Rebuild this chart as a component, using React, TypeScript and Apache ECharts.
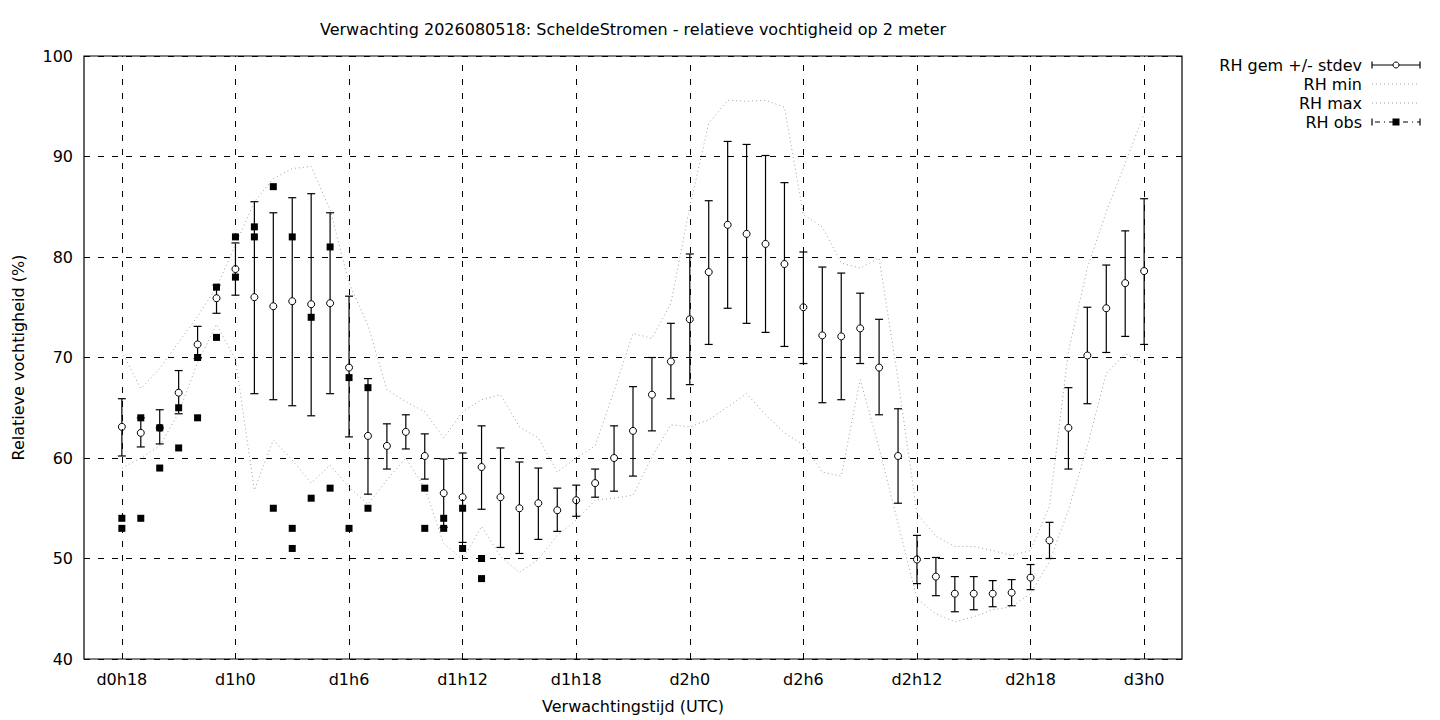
import React, { useEffect, useRef } from "react";
import * as echarts from "echarts";

// Forecast hours (d0h18 = 18 ... d3h0 = 72)
const hours = [
  18, 19, 20, 21, 22, 23, 24, 25, 26, 27, 28, 29, 30, 31, 32, 33, 34, 35, 36,
  37, 38, 39, 40, 41, 42, 43, 44, 45, 46, 47, 48, 49, 50, 51, 52, 53, 54, 55,
  56, 57, 58, 59, 60, 61, 62, 63, 64, 65, 66, 67, 68, 69, 70, 71, 72,
];

// RH mean
const rhMean = [
  63.1, 62.5, 63.0, 66.5, 71.3, 75.9, 78.8, 76.0, 75.1, 75.6, 75.3, 75.4, 69.0,
  62.2, 61.2, 62.6, 60.2, 56.5, 56.1, 59.1, 56.1, 55.0, 55.5, 54.8, 55.8, 57.5,
  60.0, 62.7, 66.3, 69.6, 73.8, 78.5, 83.2, 82.3, 81.3, 79.3, 75.0, 72.2, 72.1,
  72.9, 69.0, 60.2, 49.9, 48.2, 46.5, 46.5, 46.5, 46.6, 48.1, 51.8, 63.0, 70.2,
  74.9, 77.4, 78.6,
];

// mean + stdev
const rhHigh = [
  65.9, 64.0, 64.8, 68.7, 73.1, 77.2, 81.4, 85.5, 84.4, 85.9, 86.3, 84.4, 76.1,
  67.9, 63.4, 64.3, 62.4, 59.9, 60.5, 63.2, 61.0, 59.6, 59.0, 57.0, 57.3, 58.9,
  63.2, 67.1, 70.0, 73.4, 80.3, 85.6, 91.5, 91.2, 90.1, 87.4, 80.5, 79.0, 78.4,
  76.4, 73.8, 64.9, 52.3, 50.1, 48.2, 48.2, 47.8, 47.9, 49.4, 53.6, 67.0, 75.0,
  79.2, 82.6, 85.8,
];

// mean - stdev
const rhLow = [
  60.2, 61.1, 61.4, 64.4, 69.9, 74.4, 76.2, 66.4, 65.8, 65.2, 64.2, 66.4, 62.1,
  56.4, 58.9, 60.9, 57.9, 53.1, 51.6, 54.9, 51.1, 50.5, 51.9, 52.7, 54.2, 56.1,
  56.7, 58.2, 62.7, 65.9, 67.3, 71.3, 74.9, 73.4, 72.5, 71.1, 69.4, 65.5, 65.8,
  69.4, 64.3, 55.5, 47.5, 46.3, 44.7, 44.9, 45.2, 45.3, 46.9, 50.0, 58.9, 65.4,
  70.5, 72.1, 71.3,
];

// RH min
const rhMin = [
  59.0, 60.0, 61.2, 64.5, 69.5, 73.3, 69.8, 56.8, 61.8, 59.8, 57.5, 59.3, 57.1,
  55.4, 57.8, 60.0, 57.0, 51.5, 49.9, 53.2, 50.2, 48.6, 49.9, 52.3, 53.8, 55.8,
  56.0, 56.3, 60.1, 63.3, 63.1, 63.8, 65.1, 66.4, 64.3, 62.5, 61.3, 58.6, 58.2,
  67.8, 61.0, 53.5, 46.0, 44.5, 43.7, 44.2, 44.9, 45.2, 46.5, 49.7, 54.8, 61.2,
  68.4, 70.4, 69.4,
];

// RH max
const rhMax = [
  70.6, 66.9, 68.9, 71.5, 74.1, 77.0, 81.2, 85.5, 87.8, 88.8, 89.0, 84.7, 77.4,
  73.2, 66.8, 65.6, 64.6, 62.0, 64.6, 65.8, 66.3, 63.1, 62.0, 58.6, 60.0, 61.2,
  66.7, 72.4, 71.9, 75.4, 85.0, 93.3, 95.6, 95.5, 95.6, 94.9, 84.2, 83.0, 79.4,
  78.9, 79.9, 67.8, 54.5, 52.2, 51.2, 51.2, 50.8, 50.3, 50.8, 55.2, 70.6, 78.9,
  84.5, 89.3, 94.3,
];

// Observations (hour, value)
const obsHours = [
  18, 18, 19, 19, 20, 20, 21, 21, 22, 22, 23, 23, 24, 24, 25, 25, 26, 26, 27,
  27, 27, 28, 28, 29, 29, 30, 30, 31, 31, 34, 34, 35, 35, 36, 36, 37, 37,
];
const obsValues = [
  54, 53, 64, 54, 63, 59, 65, 61, 70, 64, 77, 72, 82, 78, 83, 82, 87, 55, 82,
  53, 51, 74, 56, 81, 57, 68, 53, 67, 55, 57, 53, 54, 53, 55, 51, 50, 48,
];

const xTickHours = [18, 24, 30, 36, 42, 48, 54, 60, 66, 72];

const titleText =
  "Verwachting 2026080518: ScheldeStromen - relatieve vochtigheid op 2 meter";
const xName = "Verwachtingstijd (UTC)";
const yName = "Relatieve vochtigheid (%)";
const legendNames = ["RH gem +/- stdev", "RH min", "RH max", "RH obs"];

const FONT = "DejaVu Sans";
const FS = 16;

function fmtHour(v: number): string {
  const d = Math.floor(v / 24);
  const h = v - d * 24;
  return "d" + d + "h" + h;
}

export default function App() {
  const ref = useRef<HTMLDivElement>(null);

  useEffect(() => {
    if (!ref.current) return;
    const chart = echarts.init(ref.current, null, { renderer: "svg" });

    const errData = hours.map((h, i) => [h, rhLow[i], rhHigh[i]]);
    const meanData = hours.map((h, i) => [h, rhMean[i]]);
    const minData = hours.map((h, i) => [h, rhMin[i]]);
    const maxData = hours.map((h, i) => [h, rhMax[i]]);
    const obsData = obsHours.map((h, i) => [h, obsValues[i]]);

    const barStyle = { stroke: "#000", lineWidth: 1.2 };
    const dotted = { color: "#a0a0a0", width: 1, type: [1, 3] as any };

    const legendX1 = 1372;
    const legendX2 = 1420;
    const legendMid = 1396;
    const legendTextX = 1362;
    const rowY = [65, 84, 103, 122];
    const font = FS + "px '" + FONT + "'";

    const legendGraphics: any[] = [];
    legendNames.forEach((n, i) => {
      legendGraphics.push({
        type: "text",
        x: legendTextX,
        y: rowY[i],
        style: {
          text: n,
          fill: "#000",
          font,
          align: "right",
          verticalAlign: "middle",
        },
      });
    });
    // row 1: errorbar with circle
    legendGraphics.push(
      {
        type: "line",
        shape: { x1: legendX1, y1: rowY[0], x2: legendX2, y2: rowY[0] },
        style: { stroke: "#000", lineWidth: 1.2 },
      },
      {
        type: "line",
        shape: { x1: legendX1, y1: rowY[0] - 3.5, x2: legendX1, y2: rowY[0] + 3.5 },
        style: { stroke: "#000", lineWidth: 1.2 },
      },
      {
        type: "line",
        shape: { x1: legendX2, y1: rowY[0] - 3.5, x2: legendX2, y2: rowY[0] + 3.5 },
        style: { stroke: "#000", lineWidth: 1.2 },
      },
      {
        type: "circle",
        shape: { cx: legendMid, cy: rowY[0], r: 3 },
        style: { fill: "#fff", stroke: "#000", lineWidth: 1 },
      }
    );
    // rows 2,3: dotted lines
    [1, 2].forEach((i) => {
      legendGraphics.push({
        type: "line",
        shape: { x1: legendX1, y1: rowY[i], x2: legendX2, y2: rowY[i] },
        style: { stroke: "#a0a0a0", lineWidth: 1, lineDash: [1, 3] },
      });
    });
    // row 4: dash-dot with square
    legendGraphics.push(
      {
        type: "line",
        shape: { x1: legendX1 + 3, y1: rowY[3], x2: legendX2, y2: rowY[3] },
        style: { stroke: "#000", lineWidth: 1.2, lineDash: [5, 4, 1, 4] },
      },
      {
        type: "line",
        shape: { x1: legendX1, y1: rowY[3] - 3.5, x2: legendX1, y2: rowY[3] + 3.5 },
        style: { stroke: "#000", lineWidth: 1.2 },
      },
      {
        type: "line",
        shape: { x1: legendX2, y1: rowY[3] - 3.5, x2: legendX2, y2: rowY[3] + 3.5 },
        style: { stroke: "#000", lineWidth: 1.2 },
      },
      {
        type: "rect",
        shape: { x: legendMid - 3.5, y: rowY[3] - 3.5, width: 7, height: 7 },
        style: { fill: "#000" },
      }
    );

    chart.setOption({
      animation: false,
      backgroundColor: "#fff",
      textStyle: { fontFamily: FONT },
      grid: {
        left: 84,
        right: 258,
        top: 56,
        bottom: 61,
        outerBoundsMode: "none",
        containLabel: false,
        show: true,
        borderColor: "#000",
        borderWidth: 1.2,
        backgroundColor: "transparent",
      },
      graphic: [
        {
          type: "text",
          x: 633,
          y: 29,
          style: {
            text: titleText,
            fill: "#000",
            font,
            align: "center",
            verticalAlign: "middle",
          },
        },
        ...legendGraphics,
      ],
      xAxis: {
        type: "value",
        min: 16,
        max: 74,
        name: xName,
        nameLocation: "middle",
        nameGap: 39,
        nameTextStyle: { color: "#000", fontSize: FS, fontFamily: FONT },
        axisLine: { show: false },
        axisTick: { show: false, customValues: xTickHours },
        splitLine: { show: false },
        axisLabel: {
          customValues: xTickHours,
          formatter: (v: number) => fmtHour(v),
          color: "#000",
          fontSize: FS,
          fontFamily: FONT,
          margin: 12,
        },
      },
      yAxis: {
        type: "value",
        min: 40,
        max: 100,
        interval: 10,
        name: yName,
        nameLocation: "middle",
        nameGap: 58,
        nameTextStyle: { color: "#000", fontSize: FS, fontFamily: FONT },
        axisLine: { show: false },
        axisTick: { show: false },
        splitLine: {
          show: true,
          lineStyle: { color: "#000", width: 1, type: [6, 8] },
        },
        axisLabel: {
          color: "#000",
          fontSize: FS,
          fontFamily: FONT,
          margin: 11,
        },
      },
      series: [
        {
          name: "grid",
          type: "line",
          data: [],
          silent: true,
          markLine: {
            silent: true,
            symbol: "none",
            label: { show: false },
            lineStyle: { color: "#000", width: 1, type: [6, 8] },
            data: xTickHours.map((h) => ({ xAxis: h })),
          },
        },
        {
          name: legendNames[0],
          type: "custom",
          data: errData,
          encode: { x: 0, y: [1, 2] },
          z: 3,
          renderItem: (params: any, api: any) => {
            const x = api.value(0);
            const lo = api.coord([x, api.value(1)]);
            const hi = api.coord([x, api.value(2)]);
            const w = 4;
            return {
              type: "group",
              children: [
                {
                  type: "line",
                  shape: { x1: lo[0], y1: lo[1], x2: hi[0], y2: hi[1] },
                  style: barStyle,
                },
                {
                  type: "line",
                  shape: { x1: lo[0] - w, y1: lo[1], x2: lo[0] + w, y2: lo[1] },
                  style: barStyle,
                },
                {
                  type: "line",
                  shape: { x1: hi[0] - w, y1: hi[1], x2: hi[0] + w, y2: hi[1] },
                  style: barStyle,
                },
              ],
            };
          },
        },
        {
          name: legendNames[0] + " mean",
          type: "scatter",
          data: meanData,
          symbol: "circle",
          symbolSize: 7,
          z: 4,
          itemStyle: { color: "#fff", borderColor: "#000", borderWidth: 1, opacity: 1 },
        },
        {
          name: legendNames[1],
          type: "line",
          data: minData,
          showSymbol: false,
          z: 5,
          lineStyle: dotted,
        },
        {
          name: legendNames[2],
          type: "line",
          data: maxData,
          showSymbol: false,
          z: 5,
          lineStyle: dotted,
        },
        {
          name: legendNames[3],
          type: "scatter",
          data: obsData,
          symbol: "rect",
          symbolSize: 7,
          z: 6,
          itemStyle: { color: "#000", opacity: 1 },
        },
      ],
    });

    return () => chart.dispose();
  }, []);

  return (
    <div
      ref={ref}
      style={{ position: "fixed", left: 0, top: 0, width: 1440, height: 720 }}
    />
  );
}
